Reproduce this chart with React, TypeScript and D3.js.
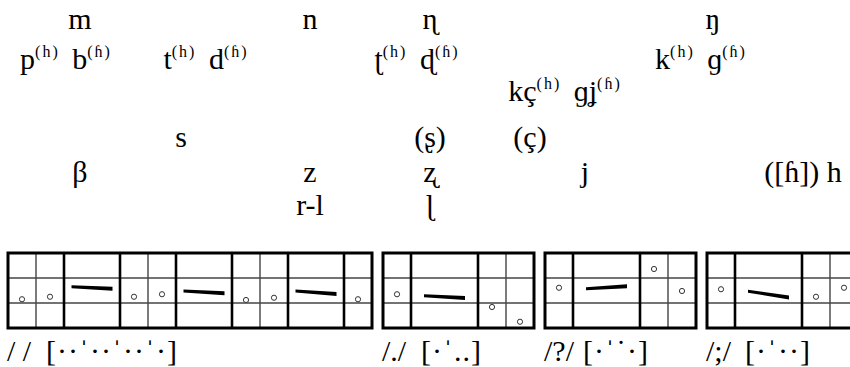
import React from "react";
import * as d3 from "d3";

// consonant inventory, grouped by manner row
const manners = ["nasal", "plosive", "affricate", "fricative", "approximant", "liquid"];

const nasals = [
  { seg: "m", place: "labial", voice: "mid" },
  { seg: "n", place: "alveolar", voice: "vd" },
  { seg: "ɳ", place: "retroflex", voice: "mid" },
  { seg: "ŋ", place: "velar", voice: "mid" },
];
const plosives = [
  { vl: "p", vd: "b", place: "labial" },
  { vl: "t", vd: "d", place: "alveolar" },
  { vl: "ʈ", vd: "ɖ", place: "retroflex" },
  { vl: "k", vd: "ɡ", place: "velar" },
];
const affricates = [{ vl: "kç", vd: "ɡʝ", place: "palatal" }];
const fricatives = [
  { seg: "s", place: "alveolar", voice: "vl" },
  { seg: "(ʂ)", place: "retroflex", voice: "mid" },
  { seg: "(ç)", place: "palatal", voice: "vl" },
];
const approximants = [
  { seg: "β", place: "labial", voice: "mid" },
  { seg: "z", place: "alveolar", voice: "vd" },
  { seg: "ʐ", place: "retroflex", voice: "mid" },
  { seg: "j", place: "palatal", voice: "vd" },
  { seg: "([ɦ]) h", place: "glottal", voice: "mid" },
];
const liquids = [
  { seg: "r-l", place: "alveolar", voice: "vd" },
  { seg: "ɭ", place: "retroflex", voice: "mid" },
];
const aspirated = "(h)";
const breathy = "(ɦ)";

// intonation contours: u = unstressed syllable (circle), S = stressed (bar)
const toneLabels = ["/ /", "/./", "/?/", "/;/"];
const toneTranscriptions = ["[··ˈ··ˈ··ˈ·]", "[·ˈ..]", "[·ˈ˙·]", "[·ˈ··]"];
const toneCells = ["uuSuuSuuSu", "uSuu", "uSuu", "uSuu"];
const pitchNeutral = [1.15, 1.25, [1.65, 1.57], 1.25, 1.35, [1.48, 1.39], 1.12, 1.21, [1.48, 1.36], 1.15];
const pitchFullStop = [1.35, [1.29, 1.2], 0.84, 0.25];
const pitchQuestion = [1.61, [1.57, 1.67], 2.36, 1.48];
const pitchSemicolon = [1.55, [1.47, 1.22], 1.25, 1.61];
const tonePitches = [pitchNeutral, pitchFullStop, pitchQuestion, pitchSemicolon];

const W = 850;
const H = 367;
const serif = "Liberation Serif";

// column slots of the consonant table
const slotX = d3
  .scaleOrdinal<string, number>()
  .domain([
    "labial:pair", "labial:mid",
    "alveolar:pair", "alveolar:vl", "alveolar:vd",
    "retroflex:pair", "retroflex:mid",
    "palatal:pair", "palatal:vl", "palatal:vd",
    "velar:pair", "velar:mid",
    "glottal:mid",
  ])
  .range([66, 80, 206, 181, 310, 417, 430, 565, 530, 585, 701, 713, 803]);

const rowY = d3.scaleOrdinal<string, number>().domain(manners).range([29, 69, 101, 147, 182, 215]);

const singles = [
  ...nasals.map((d) => ({ ...d, manner: "nasal" })),
  ...fricatives.map((d) => ({ ...d, manner: "fricative" })),
  ...approximants.map((d) => ({ ...d, manner: "approximant" })),
  ...liquids.map((d) => ({ ...d, manner: "liquid" })),
];
const pairs = [
  ...plosives.map((d) => ({ ...d, manner: "plosive" })),
  ...affricates.map((d) => ({ ...d, manner: "affricate" })),
];

// tone box geometry
const unitW = 28;
const boxTop = 253;
const boxBottom = 328;
const boxGap = 11;
const stressW = [56, 67, 67, 67];
const pitchY = d3.scaleLinear().domain([0, 3]).range([boxBottom, boxTop]);

const boxes = (() => {
  let left = 8;
  return toneCells.map((pattern, bi) => {
    const cells = pattern.split("");
    const widths = cells.map((c) => (c === "S" ? stressW[bi] : unitW));
    const edges = [left, ...d3.cumsum(widths).map((v) => left + v)];
    const box = { left, right: edges[edges.length - 1], cells, edges, pitches: tonePitches[bi] };
    left = box.right + boxGap;
    return box;
  });
})();

const barPath = d3.line();

function ToneBox({ box, bi }: { box: any; bi: number }) {
  const { left, right, cells, edges, pitches } = box;
  const inner = edges.slice(1, -1).map((x: number, i: number) => ({
    x,
    thick: cells[i] === "S" || cells[i + 1] === "S",
  }));
  return (
    <g>
      {[1, 2].map((p) => (
        <line key={p} x1={left} x2={right} y1={pitchY(p)} y2={pitchY(p)} stroke="#444" strokeWidth={1.4} />
      ))}
      {inner.map((v: any, i: number) => (
        <line
          key={i}
          x1={v.x}
          x2={v.x}
          y1={boxTop}
          y2={boxBottom}
          stroke={v.thick ? "#000" : "#444"}
          strokeWidth={v.thick ? 2.6 : 1.4}
        />
      ))}
      <rect x={left} y={boxTop} width={right - left} height={boxBottom - boxTop} fill="none" stroke="#000" strokeWidth={3} />
      {cells.map((c: string, i: number) => {
        const cx = (edges[i] + edges[i + 1]) / 2;
        const p = pitches[i];
        if (c === "S") {
          const [p0, p1] = p as number[];
          const x0 = cx - 20.5;
          const x1 = cx + 20.5;
          const y0 = pitchY(p0);
          const y1 = pitchY(p1);
          const d = barPath([
            [x0, y0 - 1.4],
            [x1, y1 - 2.1],
            [x1, y1 + 2.1],
            [x0, y0 + 1.4],
          ]) + "Z";
          return <path key={i} d={d} fill="#000" />;
        }
        return <circle key={i} cx={cx} cy={pitchY(p as number)} r={2.6} fill="#fff" stroke="#333" strokeWidth={1} />;
      })}
      <text x={left - 1} y={361} style={{ fontFamily: serif, fontSize: 30 }} fill="#000">
        {toneLabels[bi]}
      </text>
      <text x={left + 38} y={361} style={{ fontFamily: serif, fontSize: 30, letterSpacing: 1 }} fill="#000">
        {toneTranscriptions[bi]}
      </text>
    </g>
  );
}

export default function App() {
  return (
    <div>
      <style>{`body{margin:0}`}</style>
      <svg width={W} height={H} viewBox={`0 0 ${W} ${H}`} style={{ display: "block", background: "#fff" }}>
        <g style={{ fontFamily: serif, fontSize: 30 }} fill="#000" textAnchor="middle">
          {singles.map((d, i) => (
            <text key={i} x={slotX(`${d.place}:${d.voice}`)} y={rowY(d.manner)}>
              {d.seg}
            </text>
          ))}
          {pairs.map((d, i) => (
            <text key={"p" + i} x={slotX(`${d.place}:pair`)} y={rowY(d.manner)}>
              <tspan>{d.vl}</tspan>
              <tspan dy={-12} style={{ fontSize: 16, letterSpacing: 2 }}>{aspirated}</tspan>
              <tspan dy={12} dx={5}>{" " + d.vd}</tspan>
              <tspan dy={-12} style={{ fontSize: 16, letterSpacing: 2 }}>{breathy}</tspan>
            </text>
          ))}
        </g>
        {boxes.map((b, bi) => (
          <ToneBox key={bi} box={b} bi={bi} />
        ))}
      </svg>
    </div>
  );
}
